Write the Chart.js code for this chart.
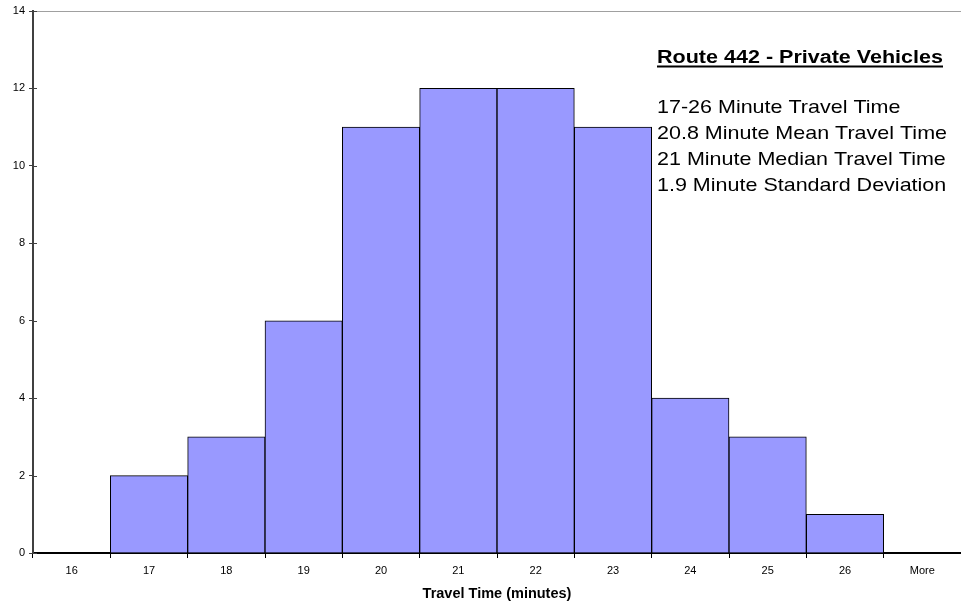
<!DOCTYPE html>
<html>
<head>
<meta charset="utf-8">
<script src="https://cdn.jsdelivr.net/npm/chart.js@4"></script>
<style>
  html, body { margin: 0; padding: 0; background: #fff; }
  #wrap { width: 961px; height: 607px; }
</style>
</head>
<body>
<div id="wrap"><canvas id="histChart"></canvas></div>
<script>
const categories = ["16", "17", "18", "19", "20", "21", "22", "23", "24", "25", "26", "More"];
const counts = [0, 2, 3, 6, 11, 12, 12, 11, 4, 3, 1, 0];
const noteTitle = "Route 442 - Private Vehicles";
const noteLines = [
  "17-26 Minute Travel Time",
  "20.8 Minute Mean Travel Time",
  "21 Minute Median Travel Time",
  "1.9 Minute Standard Deviation",
];

const FONT = "'Liberation Sans', Arial, sans-serif";

// extra bits: top border, inner tick marks, the text box
const extras = {
  id: "extras",
  afterDraw(c) {
    const ctx = c.ctx;
    const area = c.chartArea;
    const y = c.scales.y;
    ctx.save();
    ctx.strokeStyle = "#a0a0a0";
    ctx.lineWidth = 1;
    ctx.beginPath();
    ctx.moveTo(area.left, area.top + 0.5);
    ctx.lineTo(area.right, area.top + 0.5);
    ctx.stroke();

    ctx.strokeStyle = "#404040";
    y.ticks.forEach((t) => {
      const py = Math.round(y.getPixelForValue(t.value)) + 0.5;
      ctx.beginPath();
      ctx.moveTo(area.left, py);
      ctx.lineTo(area.left + 4, py);
      ctx.stroke();
    });

    // the note text is a bit wider than plain Arial, so stretch it
    ctx.fillStyle = "#000";
    ctx.textBaseline = "alphabetic";
    ctx.textAlign = "left";
    const tx = 657;
    ctx.font = "bold 17.5px " + FONT;
    const tw = ctx.measureText(noteTitle).width;
    ctx.save();
    ctx.translate(tx, 0);
    ctx.scale(286 / tw, 1);
    ctx.fillText(noteTitle, 0, 63);
    ctx.restore();
    ctx.fillRect(tx, 65.5, 286, 2);

    ctx.font = "19px " + FONT;
    const lw = ctx.measureText(noteLines[1]).width;
    ctx.save();
    ctx.translate(tx, 0);
    ctx.scale(290 / lw, 1);
    noteLines.forEach((l, i) => ctx.fillText(l, 0, 113 + i * 26));
    ctx.restore();
    ctx.restore();
  },
};

new Chart(document.getElementById("histChart"), {
  type: "bar",
  data: {
    labels: categories,
    datasets: [
      {
        data: counts,
        backgroundColor: "#9999ff",
        borderColor: "#000",
        borderWidth: 1,
        barPercentage: 1,
        categoryPercentage: 1,
      },
    ],
  },
  options: {
    responsive: true,
    maintainAspectRatio: false,
    animation: false,
    layout: { padding: { top: 11, right: 0, left: 0, bottom: 0 } },
    plugins: {
      legend: { display: false },
      tooltip: { enabled: false },
    },
    scales: {
      x: {
        afterFit: (s) => { s.height = 54; },
        grid: {
          offset: true,
          drawOnChartArea: false,
          tickLength: 5,
          color: "#000",
        },
        border: { color: "#000", width: 2 },
        ticks: { color: "#000", font: { family: FONT, size: 11 }, padding: 6 },
        title: {
          display: true,
          text: "Travel Time (minutes)",
          color: "#000",
          font: { family: FONT, size: 14.5, weight: "bold" },
          padding: { top: 0 },
        },
      },
      y: {
        min: 0,
        max: 14,
        afterFit: (s) => { s.width = 33; },
        grid: { drawOnChartArea: false, tickLength: 4, color: "#404040" },
        border: { color: "#404040", width: 2 },
        ticks: {
          stepSize: 2,
          color: "#000",
          font: { family: FONT, size: 11 },
          padding: 4,
        },
      },
    },
  },
  plugins: [extras],
});
</script>
</body>
</html>
